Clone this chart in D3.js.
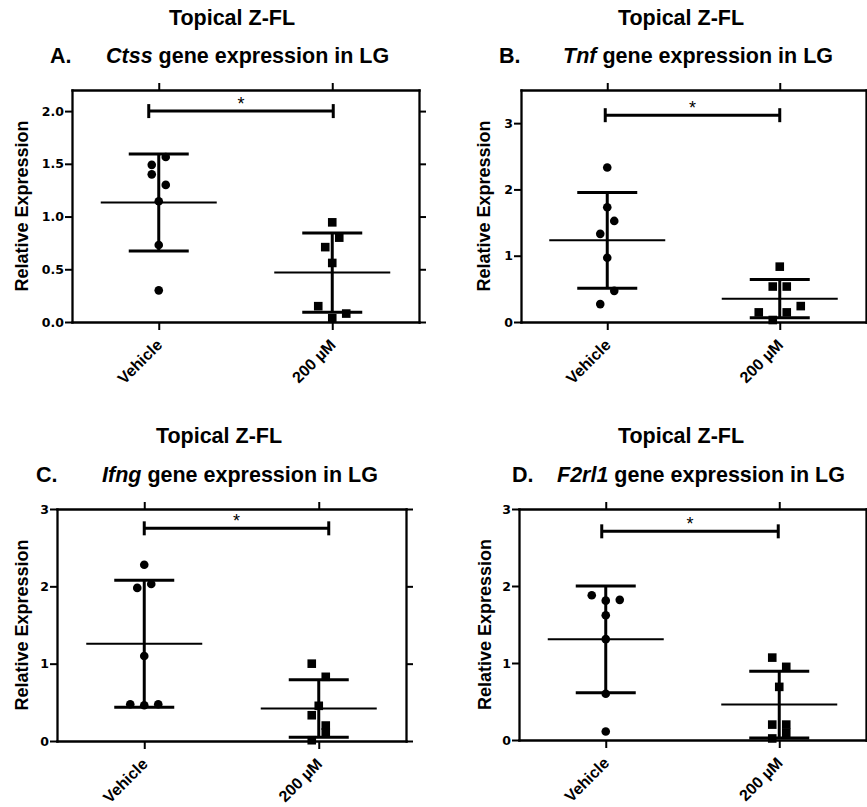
<!DOCTYPE html>
<html>
<head>
<meta charset="utf-8">
<script src="https://cdn.jsdelivr.net/npm/d3@7"></script>
<style>
body { margin: 0; background: #fff; }
text { white-space: pre; }
</style>
</head>
<body>
<div id="chart-area"></div>
<script>
// Data
var groups = ["Vehicle", "200 \u00B5M"];
var titleTop = "Topical Z-FL";
var titleRest = " gene expression in LG";
var yLabelText = "Relative Expression";
var letters = ["A.", "B.", "C.", "D."];
var genes = ["Ctss", "Tnf", "Ifng", "F2rl1"];

var ctssVehicle = [1.565, 1.49, 1.40, 1.30, 1.145, 0.73, 0.30];
var ctss200     = [0.945, 0.80, 0.71, 0.56, 0.15, 0.08, 0.035];
var tnfVehicle  = [2.33, 1.73, 1.525, 1.33, 0.97, 0.47, 0.27];
var tnf200      = [0.835, 0.535, 0.535, 0.24, 0.145, 0.145, 0.03];
var ifngVehicle = [2.28, 2.03, 1.98, 1.10, 0.476, 0.463, 0.476];
var ifng200     = [1.00, 0.83, 0.455, 0.333, 0.20, 0.11, 0.01];
var f2rl1Vehicle = [1.88, 1.82, 1.81, 1.62, 1.31, 0.60, 0.11];
var f2rl1200     = [1.07, 0.95, 0.69, 0.20, 0.20, 0.095, 0.02];

// scatter lane of each point (same order as the values)
var ctssVehicleLane = [1, -1, -1, 1, 0, 0, 0];
var ctss200Lane     = [0, 1, -1, 0, -2, 2, 0];
var tnfVehicleLane  = [0, 0, 1, -1, 0, 1, -1];
var tnf200Lane      = [0, -1, 1, 3, -3, 1, -1];
var ifngVehicleLane = [0, 1, -1, 0, -2, 0, 2];
var ifng200Lane     = [-1, 1, 0, -1, 1, 1, -1];
var f2rl1VehicleLane = [-2, 2, 0, 0, 0, 0, 0];
var f2rl1200Lane     = [-1, 1, 0, -1, 1, 1, -1];

var ctssTicks = [0, 0.5, 1, 1.5, 2];
var otherTicks = [0, 1, 2, 3];
var yMax = [2.2, 3.5, 3, 3];
var sigY = [2.0, 3.12, 2.75, 2.71];
var sigLabel = "*";

// Layout of the four panels
var panels = [
    { vals: [ctssVehicle, ctss200], lanes: [ctssVehicleLane, ctss200Lane], ticks: ctssTicks, fmt: ".1f",
      box: { left: 72, top: 90, right: 419, bottom: 322 }, t1x: 232, ty: [25, 63], letterX: 50, geneX: 106,
      yLabelX: 21.5, nudge: [-10, 1] },
    { vals: [tnfVehicle, tnf200], lanes: [tnfVehicleLane, tnf200Lane], ticks: otherTicks, fmt: "d",
      box: { left: 521, top: 90, right: 866, bottom: 322 }, t1x: 681, ty: [25, 63], letterX: 499, geneX: 563,
      yLabelX: 484, nudge: [-2, 0] },
    { vals: [ifngVehicle, ifng200], lanes: [ifngVehicleLane, ifng200Lane], ticks: otherTicks, fmt: "d",
      box: { left: 57, top: 509, right: 406, bottom: 741 }, t1x: 219, ty: [443, 482], letterX: 36, geneX: 102,
      yLabelX: 22, nudge: [0, 10] },
    { vals: [f2rl1Vehicle, f2rl1200], lanes: [f2rl1VehicleLane, f2rl1200Lane], ticks: otherTicks, fmt: "d",
      box: { left: 519, top: 509, right: 866, bottom: 740 }, t1x: 681, ty: [443, 482], letterX: 512, geneX: 557,
      yLabelX: 484.5, nudge: [-4, -1] }
];

var svg = d3.select("#chart-area")
    .append("svg")
    .attr("width", 867)
    .attr("height", 807)
    .attr("font-family", "'Liberation Sans', Arial, sans-serif");

var symbols = [d3.symbol().type(d3.symbolCircle).size(58), d3.symbol().type(d3.symbolSquare).size(74)];
var laneStep = 7;

function styleAxis(sel) {
    sel.attr("font-family", null).attr("font-size", null);
    sel.select(".domain").attr("stroke", "#000").attr("stroke-width", 2.3).attr("stroke-linecap", "square");
    sel.selectAll(".tick line").attr("stroke", "#000").attr("stroke-width", 2);
}

panels.forEach(function(p, i) {
    var g = svg.append("g");
    var b = p.box;

    var x = d3.scalePoint().domain(groups).range([b.left, b.right]).padding(0.5);
    var y = d3.scaleLinear().domain([0, yMax[i]]).range([b.bottom, b.top]);

    // Titles
    g.append("text")
        .attr("x", p.t1x).attr("y", p.ty[0])
        .attr("text-anchor", "middle")
        .attr("font-size", "21.5px").attr("font-weight", "bold")
        .text(titleTop);
    g.append("text")
        .attr("x", p.letterX).attr("y", p.ty[1])
        .attr("font-size", "21.5px").attr("font-weight", "bold")
        .text(letters[i]);
    var t2 = g.append("text")
        .attr("x", p.geneX).attr("y", p.ty[1])
        .attr("font-size", "21.5px").attr("font-weight", "bold");
    t2.append("tspan").attr("font-style", "italic").text(genes[i]);
    t2.append("tspan").text(titleRest);

    // Y label
    g.append("text")
        .attr("transform", "translate(" + p.yLabelX + "," + (b.top + b.bottom) / 2 + ") rotate(-90)")
        .attr("text-anchor", "middle")
        .attr("dy", "0.35em")
        .attr("font-size", "18px").attr("font-weight", "bold")
        .text(yLabelText);

    // Axes (frame on all four sides)
    var leftAxis = g.append("g")
        .attr("transform", "translate(" + b.left + ",0)")
        .call(d3.axisLeft(y).tickValues(p.ticks).tickFormat(d3.format(p.fmt))
            .tickSize(7).tickSizeOuter(0).tickPadding(1));
    styleAxis(leftAxis);
    leftAxis.selectAll("text")
        .attr("fill", "#000")
        .attr("font-family", "'DejaVu Sans', sans-serif")
        .attr("font-weight", "bold")
        .attr("font-size", "12.5px");

    var rightAxis = g.append("g")
        .attr("transform", "translate(" + b.right + ",0)")
        .call(d3.axisRight(y).tickValues(p.ticks).tickFormat("").tickSize(7).tickSizeOuter(0));
    styleAxis(rightAxis);

    var topAxis = g.append("g")
        .attr("transform", "translate(0," + b.top + ")")
        .call(d3.axisTop(x).tickFormat("").tickSize(7).tickSizeOuter(0));
    styleAxis(topAxis);

    var bottomAxis = g.append("g")
        .attr("transform", "translate(0," + b.bottom + ")")
        .call(d3.axisBottom(x).tickSize(8).tickSizeOuter(0));
    styleAxis(bottomAxis);
    bottomAxis.selectAll("text")
        .attr("fill", "#000")
        .attr("x", 0).attr("y", 0).attr("dy", 0)
        .attr("text-anchor", "end")
        .attr("transform", "translate(4,24) rotate(-45)")
        .attr("font-size", "16px").attr("font-weight", "bold");

    // Points, mean and SD
    groups.forEach(function(grp, k) {
        var vals = p.vals[k];
        var cx = x(grp);
        var m = d3.mean(vals), s = d3.deviation(vals);

        g.selectAll(".pt" + k)
            .data(vals)
            .enter().append("path")
            .attr("class", "pt" + k)
            .attr("d", symbols[k])
            .attr("fill", "#000")
            .attr("transform", function(d, j) {
                return "translate(" + (cx + p.lanes[k][j] * laneStep) + "," + y(d) + ")";
            });

        g.append("line")
            .attr("x1", cx - 58).attr("x2", cx + 58)
            .attr("y1", y(m)).attr("y2", y(m))
            .attr("stroke", "#000").attr("stroke-width", 2);
        g.append("line")
            .attr("x1", cx).attr("x2", cx)
            .attr("y1", y(m + s)).attr("y2", y(m - s))
            .attr("stroke", "#000").attr("stroke-width", 3);
        [m + s, m - s].forEach(function(v) {
            g.append("line")
                .attr("x1", cx - 30).attr("x2", cx + 30)
                .attr("y1", y(v)).attr("y2", y(v))
                .attr("stroke", "#000").attr("stroke-width", 3);
        });
    });

    // Significance bracket
    var x0 = x(groups[0]) + p.nudge[0],
        x1 = x(groups[1]) + p.nudge[1],
        sy = y(sigY[i]);
    g.append("line")
        .attr("x1", x0).attr("x2", x1).attr("y1", sy).attr("y2", sy)
        .attr("stroke", "#000").attr("stroke-width", 3);
    [x0, x1].forEach(function(xx) {
        g.append("line")
            .attr("x1", xx).attr("x2", xx).attr("y1", sy - 7).attr("y2", sy + 7)
            .attr("stroke", "#000").attr("stroke-width", 3);
    });
    g.append("text")
        .attr("x", (x0 + x1) / 2).attr("y", sy - 1)
        .attr("text-anchor", "middle")
        .attr("font-size", "18px")
        .text(sigLabel);
});
</script>
</body>
</html>
